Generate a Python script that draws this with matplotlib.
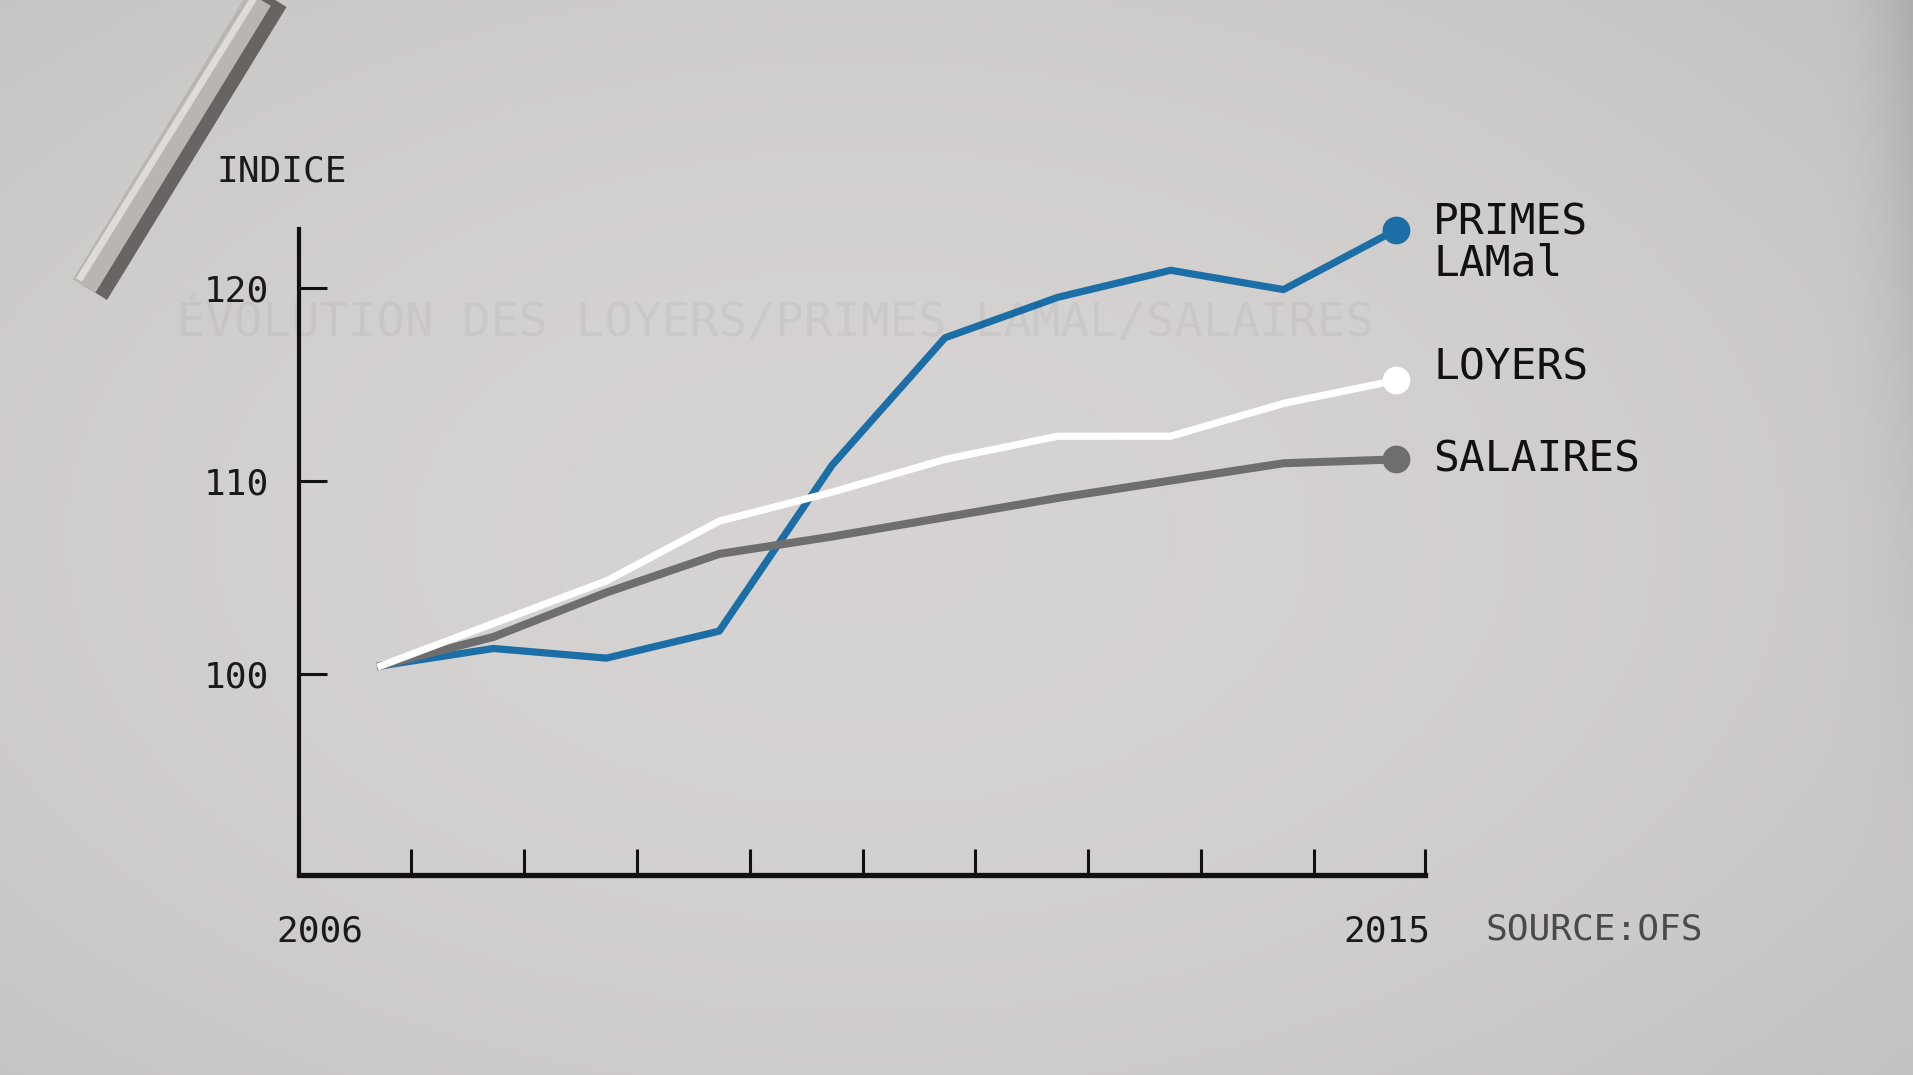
import numpy as np
import matplotlib
matplotlib.use("Agg")
import matplotlib.pyplot as plt
from matplotlib.lines import Line2D

# ---- data ----
years = [2006, 2007, 2008, 2009, 2010, 2011, 2012, 2013, 2014, 2015]
primes = [100.4, 101.3, 100.8, 102.2, 110.8, 117.4, 119.5, 120.9, 119.9, 123.0]
loyers = [100.4, 102.6, 104.8, 107.9, 109.4, 111.1, 112.3, 112.3, 114.0, 115.2]
salaires = [100.4, 101.9, 104.2, 106.2, 107.1, 108.1, 109.1, 110.0, 110.9, 111.1]
series_labels = ["PRIMES\nLAMal", "LOYERS", "SALAIRES"]
yticks = [100, 110, 120]
first_label, last_label = "2006", "2015"

W, H = 1913, 1075
fig = plt.figure(figsize=(W / 100, H / 100), dpi=100)

# background with soft vignette
bg = fig.add_axes([0, 0, 1, 1])
yy, xx = np.mgrid[0:1:300j, 0:1:540j]
r = np.sqrt(((xx - 0.45) / 0.75) ** 2 + ((yy - 0.5) / 0.8) ** 2)
base = np.array([0.84, 0.827, 0.827])
shade = 1 - 0.09 * np.clip(r, 0, 1.3) ** 2
shade -= 0.10 * np.clip((xx - 0.95) / 0.05, 0, 1) ** 2 * np.clip(1 - yy * 1.2, 0, 1)
img = base[None, None, :] * shade[:, :, None]
bg.imshow(img, extent=[0, 1, 0, 1], aspect="auto", origin="upper")
bg.set_xlim(0, 1); bg.set_ylim(0, 1)
bg.axis("off")


def fx(px):
    return px / W


def fy(py):
    return 1 - py / H


# stick decoration top-left
shadow = Line2D([fx(94), fx(276)], [fy(292), fy(-5)], transform=fig.transFigure,
                color="#4e4b49", lw=22, solid_capstyle="butt", zorder=1, alpha=0.8)
body = Line2D([fx(84), fx(265)], [fy(286), fy(-10)], transform=fig.transFigure,
              color="#b9b5b1", lw=19, solid_capstyle="butt", zorder=1)
hl = Line2D([fx(79), fx(259)], [fy(280), fy(-10)], transform=fig.transFigure,
            color="#dedbd8", lw=5, solid_capstyle="butt", zorder=1)
for a in (shadow, body, hl):
    fig.add_artist(a)

# faint watermark title
fig.text(fx(177), fy(323), "ÉVOLUTION DES LOYERS/PRIMES LAMAL/SALAIRES",
         family="DejaVu Sans Mono", fontsize=34, color="#000000", alpha=0.04,
         va="center", ha="left")

# main axes
left, right, top, bottom = 299, 1425, 229, 875
ax = fig.add_axes([left / W, 1 - bottom / H, (right - left) / W, (bottom - top) / H])
ax.patch.set_alpha(0)
ax.set_xlim(2005.276, 2015.254)
ax.set_ylim(89.56, 123.04)

for s in ["top", "right"]:
    ax.spines[s].set_visible(False)
ax.spines["left"].set_linewidth(3)
ax.spines["bottom"].set_linewidth(3.8)
ax.spines["left"].set_color("#111111")
ax.spines["bottom"].set_color("#111111")

ax.set_yticks(yticks)
ax.set_yticklabels([str(v) for v in yticks], family="DejaVu Sans Mono", fontsize=26, color="#1a1a1a")
ax.tick_params(axis="y", direction="in", length=20, width=2.2, color="#111111", pad=22)
xt = [y + 0.27 for y in years[:-1]] + [2015.254]
ax.set_xticks(xt)
ax.set_xticklabels([])
ax.tick_params(axis="x", direction="in", length=19, width=2.2, color="#111111")

lw = 5.2
ax.plot(years, primes, color="#1c6ea6", lw=lw, zorder=3)
ax.plot(years, salaires, color="#6e6e6e", lw=lw + 0.6, zorder=4)
ax.plot(years, loyers, color="#ffffff", lw=lw, zorder=5)
ms = 19
ax.plot(years[-1], primes[-1], "o", color="#1c6ea6", ms=ms, zorder=6, clip_on=False)
ax.plot(years[-1], loyers[-1], "o", color="#ffffff", ms=ms, zorder=6, clip_on=False)
ax.plot(years[-1], salaires[-1], "o", color="#6e6e6e", ms=ms, zorder=6, clip_on=False)

lab_x = fx(1433)
fig.text(lab_x, fy(243), series_labels[0], family="DejaVu Sans Mono", fontsize=31,
         color="#111111", va="center", ha="left", linespacing=0.95)
fig.text(lab_x, fy(368), series_labels[1], family="DejaVu Sans Mono", fontsize=31,
         color="#111111", va="center", ha="left")
fig.text(lab_x, fy(459), series_labels[2], family="DejaVu Sans Mono", fontsize=31,
         color="#111111", va="center", ha="left")

fig.text(fx(216), fy(172), "INDICE", family="DejaVu Sans Mono", fontsize=26,
         color="#1a1a1a", va="center", ha="left")
fig.text(fx(320), fy(931), first_label, family="DejaVu Sans Mono", fontsize=26,
         color="#1a1a1a", va="center", ha="center")
fig.text(fx(1387), fy(931), last_label, family="DejaVu Sans Mono", fontsize=26,
         color="#1a1a1a", va="center", ha="center")
fig.text(fx(1485), fy(930), "SOURCE:OFS", family="DejaVu Sans Mono", fontsize=26,
         color="#4a4a4a", va="center", ha="left")

fig.savefig("out.png", dpi=100)
